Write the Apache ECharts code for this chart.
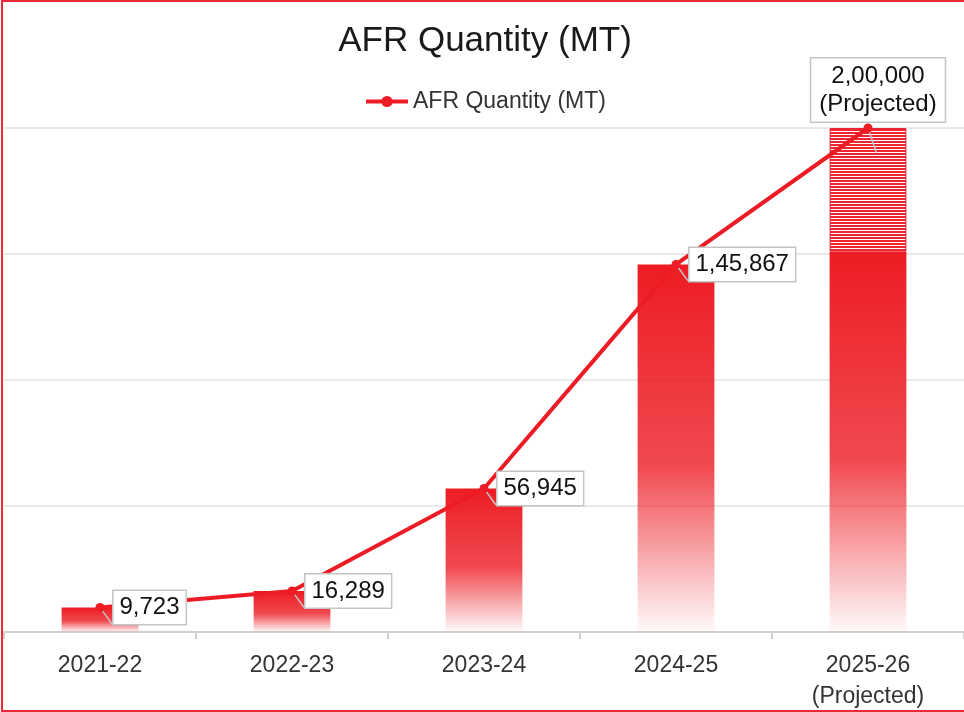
<!DOCTYPE html>
<html>
<head>
<meta charset="utf-8">
<script src="https://cdn.jsdelivr.net/npm/echarts@6/dist/echarts.min.js"></script>
<style>
  html, body { margin: 0; padding: 0; background: #fff; overflow: hidden; }
  #wrap { position: relative; width: 964px; height: 712px; overflow: hidden; }
  #chart { position: absolute; left: 0; top: 0; width: 970px; height: 712px; }
  #frame { position: absolute; left: 1px; top: 0; width: 975px; height: 708px;
           border: 2px solid #ee2a35; pointer-events: none; }
</style>
</head>
<body>
<div id="wrap"><div id="chart"></div><div id="frame"></div></div>
<script>
var categories = ['2021-22', '2022-23', '2023-24', '2024-25', '2025-26\n(Projected)'];
var quantity = [9723, 16289, 56945, 145867, 200000];
var barSolid = [9723, 16289, 56945, 145867, 151000];
var barProjected = ['-', '-', '-', '-', 49000];
var seriesName = 'AFR Quantity (MT)';
var yTicks = { min: 0, max: 200000, interval: 50000 };

function indianFormat(n) {
  var s = String(Math.round(n));
  if (s.length <= 3) return s;
  var last3 = s.slice(-3);
  var rest = s.slice(0, -3);
  var parts = [];
  while (rest.length > 2) { parts.unshift(rest.slice(-2)); rest = rest.slice(0, -2); }
  if (rest.length) parts.unshift(rest);
  return parts.join(',') + ',' + last3;
}

var RED = '#ed1c24';
var FONT = 'Liberation Sans, Arial, sans-serif';

var stripe = document.createElement('canvas');
stripe.width = 4; stripe.height = 3;
var sc = stripe.getContext('2d');
sc.fillStyle = '#ffffff'; sc.fillRect(0, 0, 4, 3);
sc.fillStyle = '#ec2630'; sc.fillRect(0, 0, 4, 2);

var grad = {
  type: 'linear', x: 0, y: 0, x2: 0, y2: 1,
  colorStops: [
    { offset: 0, color: 'rgba(237,28,36,1)' },
    { offset: 0.55, color: 'rgba(237,28,36,0.8)' },
    { offset: 1, color: 'rgba(237,28,36,0.02)' }
  ]
};

var lineData = quantity.map(function (v, i) {
  if (i === quantity.length - 1) {
    return {
      value: v,
      label: {
        position: 'top', distance: 2, offset: [10, 0],
        lineHeight: 28, padding: [4, 8, 3, 8],
        formatter: function (p) { return indianFormat(p.value) + '\n(Projected)'; }
      }
    };
  }
  return v;
});

var chart = echarts.init(document.getElementById('chart'), null, { renderer: 'canvas' });
chart.setOption({
  animation: false,
  backgroundColor: '#fff',
  title: {
    text: 'AFR Quantity (MT)', left: 'center', top: 19,
    textStyle: { fontFamily: FONT, fontSize: 35, fontWeight: 'normal', color: '#1a1a1a' }
  },
  legend: {
    data: [seriesName], top: 85, left: 'center',
    itemWidth: 42, itemHeight: 14, itemGap: 10,
    lineStyle: { width: 4 },
    textStyle: { fontFamily: FONT, fontSize: 23, color: '#333' }
  },
  grid: { left: 4, right: 6, top: 128, bottom: 79, containLabel: false },
  xAxis: {
    type: 'category', data: categories, boundaryGap: true,
    axisLine: { lineStyle: { color: '#d0d0d0', width: 2 } },
    axisTick: { show: true, length: 7, lineStyle: { color: '#d0d0d0', width: 2 } },
    axisLabel: { fontFamily: FONT, fontSize: 23, color: '#333', margin: 18, lineHeight: 31 }
  },
  yAxis: {
    type: 'value', min: yTicks.min, max: yTicks.max, interval: yTicks.interval,
    axisLabel: { show: false }, axisLine: { show: false }, axisTick: { show: false },
    splitLine: { lineStyle: { color: '#e2e2e2', width: 1.5 } }
  },
  series: [
    {
      name: 'solid', type: 'bar', stack: 'q', barWidth: '40%', data: barSolid,
      itemStyle: { color: grad }, silent: true
    },
    {
      name: 'projected', type: 'bar', stack: 'q', barWidth: '40%', data: barProjected,
      itemStyle: { color: { image: stripe, repeat: 'repeat' }, borderColor: '#ec2630', borderWidth: 1 },
      silent: true
    },
    {
      name: seriesName, type: 'line', data: lineData, z: 5,
      symbol: 'circle', symbolSize: 9,
      lineStyle: { color: RED, width: 4 },
      itemStyle: { color: RED },
      label: {
        show: true, position: 'right', distance: 9,
        fontFamily: FONT, fontSize: 24, color: '#111',
        backgroundColor: '#fff', borderColor: '#c4c4c4', borderWidth: 1.5,
        padding: [5, 6, 4, 6],
        formatter: function (p) { return indianFormat(p.value); }
      },
      labelLine: { show: true, lineStyle: { color: '#c4c4c4', width: 1.5 } }
    }
  ]
});
</script>
</body>
</html>
